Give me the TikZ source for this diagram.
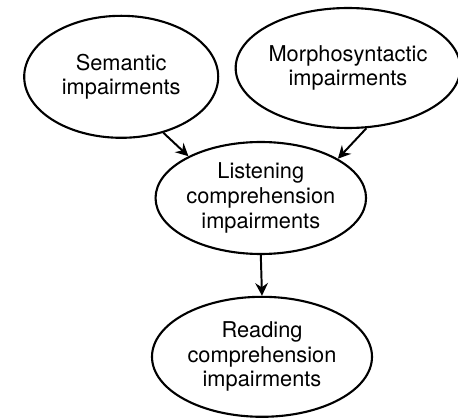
\documentclass[tikz,border=0pt]{standalone}
\usepackage{fontspec}
\setmainfont{TeX Gyre Heros}
\usetikzlibrary{shapes.geometric, arrows.meta}

\begin{document}
\begin{tikzpicture}[
    blob/.style={ellipse, draw, line width=1.5pt, inner sep=0pt, align=center,
      font=\fontsize{15.5}{17.5}\selectfont},
    link/.style={line width=1.4pt, -{Stealth[length=9pt, width=9pt, inset=3pt]}}
  ]
  \useasboundingbox (0,0) rectangle (11.45,10.5);

  \node[blob, minimum width=4.85cm, minimum height=3.05cm] (sem) at (3.03,8.58) {Semantic\\impairments};
  \node[blob, minimum width=5.4cm, minimum height=3.0cm] (mor) at (8.7,8.8) {Morphosyntactic\\impairments};
  \node[blob, minimum width=5.25cm, minimum height=2.8cm] (lis) at (6.52,5.55) {Listening\\comprehension\\impairments};
  \node[blob, minimum width=5.5cm, minimum height=3.0cm] (rea) at (6.55,1.58) {Reading\\comprehension\\impairments};

  % two roots feed the listening node, which feeds reading
  \draw[link] (sem.-53) -- (lis.150);
  \draw[link] (mor.-73) -- (lis.27);
  \draw[link] (lis.south) -- (rea.north);
\end{tikzpicture}
\end{document}
